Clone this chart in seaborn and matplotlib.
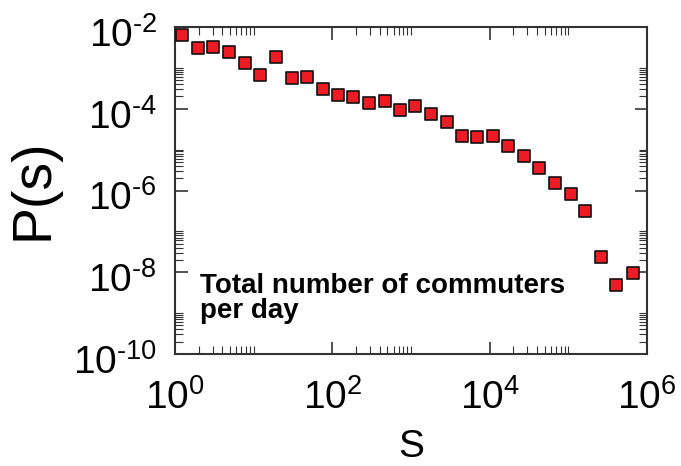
import numpy as np
import pandas as pd
import matplotlib
matplotlib.use("Agg")
import matplotlib.pyplot as plt
import matplotlib.ticker as mticker
import matplotlib.transforms as mtransforms
import seaborn as sns

# ---- data ----
s_values = [1.24, 1.98, 3.07, 4.90, 7.76, 12.0, 19.0, 30.4, 47.6, 75.3,
            117, 185, 292, 462, 723, 1132, 1775, 2837, 4397, 6934,
            10990, 17180, 27420, 42560, 67450, 106700, 165200, 263700, 409300, 654600]
p_values = [6.37e-3, 3.12e-3, 3.24e-3, 2.49e-3, 1.34e-3, 6.70e-4, 1.82e-3, 5.57e-4, 6.00e-4, 3.00e-4,
            2.14e-4, 1.91e-4, 1.39e-4, 1.55e-4, 9.51e-5, 1.15e-4, 7.46e-5, 4.75e-5, 2.20e-5, 2.05e-5,
            2.13e-5, 1.23e-5, 6.90e-6, 3.63e-6, 1.53e-6, 8.26e-7, 3.23e-7, 2.34e-8, 4.84e-9, 9.5e-9]
x_major_exp = [0, 2, 4, 6]
y_major_exp = [-10, -8, -6, -4, -2]
x_label = "S"
y_label = "P(s)"
note = "Total number of commuters\nper day"

df = pd.DataFrame({"s": s_values, "p": p_values})

sns.set_style("ticks")
plt.rcParams["font.family"] = ["Liberation Sans", "DejaVu Sans"]
plt.rcParams["mathtext.fontset"] = "custom"
plt.rcParams["mathtext.rm"] = "Liberation Sans"
plt.rcParams["mathtext.it"] = "Liberation Sans:italic"
plt.rcParams["mathtext.bf"] = "Liberation Sans:bold"
plt.rcParams["text.color"] = "black"
plt.rcParams["axes.labelcolor"] = "black"
plt.rcParams["xtick.color"] = "black"
plt.rcParams["ytick.color"] = "black"

fig = plt.figure(figsize=(6.81, 4.66), dpi=100)
ax = fig.add_axes([175 / 681, 1 - 354 / 466, (647 - 175) / 681, (354 - 27) / 466])

sns.scatterplot(data=df, x="s", y="p", ax=ax, marker="s", s=72,
                color="#ED1C24", edgecolor="#111111", linewidth=1.2, zorder=3,
                clip_on=False, legend=False)

ax.set_xscale("log")
ax.set_yscale("log")
ax.set_xlim(1, 1e6)
ax.set_ylim(1e-10, 1e-2)

ax.xaxis.set_major_locator(mticker.FixedLocator([10.0 ** e for e in x_major_exp]))
ax.yaxis.set_major_locator(mticker.FixedLocator([10.0 ** e for e in y_major_exp]))


def fmt_func(v, pos):
    e = int(round(np.log10(v)))
    if e < 0:
        return r"$\mathregular{10^{\text{-}%d}}$" % (-e)
    return r"$\mathregular{10^{%d}}$" % e


fmt = mticker.FuncFormatter(fmt_func)
ax.xaxis.set_major_formatter(fmt)
ax.yaxis.set_major_formatter(fmt)

xminor = [m * 10.0 ** e for e in x_major_exp[:-1] for m in range(2, 11)]
yminor = [m * 10.0 ** e for e in y_major_exp[:-1] for m in range(2, 11)]
ax.xaxis.set_minor_locator(mticker.FixedLocator(xminor))
ax.yaxis.set_minor_locator(mticker.FixedLocator(yminor))
ax.xaxis.set_minor_formatter(mticker.NullFormatter())
ax.yaxis.set_minor_formatter(mticker.NullFormatter())

ax.tick_params(which="both", direction="in", top=True, right=True, color="#333333")
ax.tick_params(which="major", length=9, width=1.2, labelsize=28, pad=13)
ax.tick_params(which="minor", length=6, width=0.8)
ax.tick_params(axis="x", which="major", pad=18)

# shift y tick labels slightly downward, as in the reference
shift = mtransforms.ScaledTranslation(0, -5 / 100, fig.dpi_scale_trans)
for lab in ax.get_yticklabels():
    lab.set_transform(lab.get_transform() + shift)

for sp in ax.spines.values():
    sp.set_color("#333333")
    sp.set_linewidth(1.5)

ax.set_xlabel(x_label, fontsize=28, labelpad=9)
ax.set_ylabel(y_label, fontsize=40)
ax.yaxis.set_label_coords(-0.245, 0.505)

ax.text(200 / 681, 1 - 318 / 466, note, transform=fig.transFigure,
        fontsize=20, fontweight="bold", ha="left", va="baseline", linespacing=0.93)

fig.savefig("out.png", dpi=100)
